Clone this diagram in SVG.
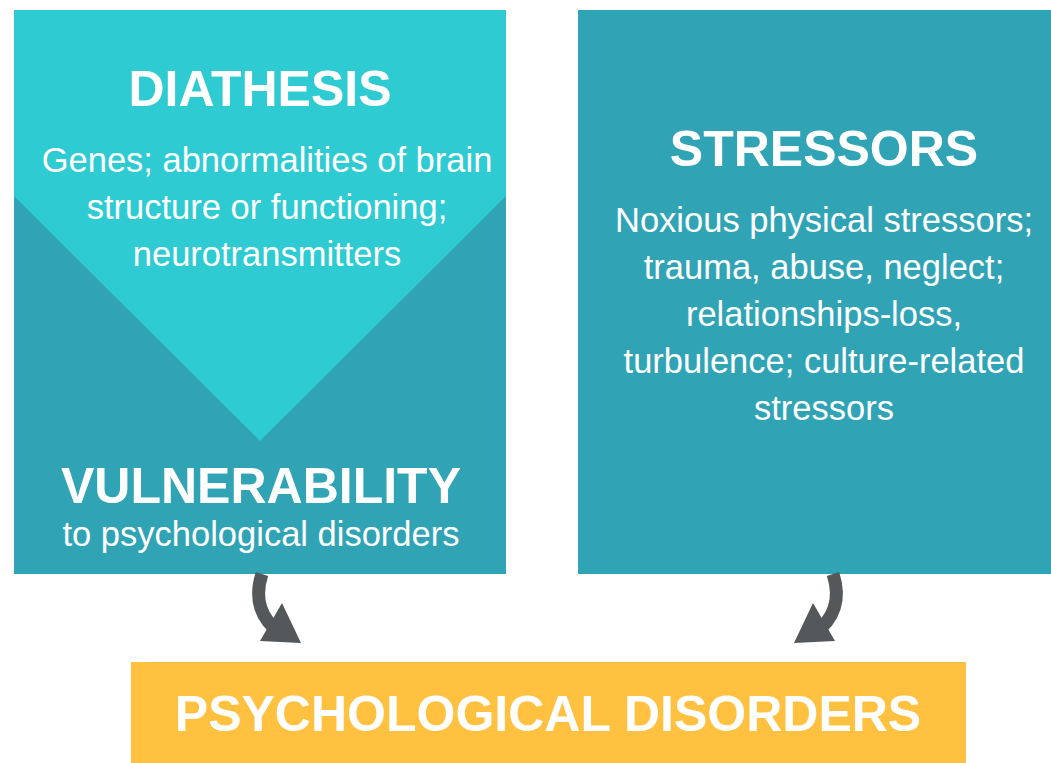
<svg xmlns="http://www.w3.org/2000/svg" width="1051" height="763" viewBox="0 0 1051 763">
<style>
.t{font-family:"Liberation Sans",Arial,sans-serif;fill:#fff;text-anchor:middle}
.h{font-weight:bold;font-size:50px}
.b{font-size:34.5px}
.arr{fill:none;stroke:#54585B;stroke-width:13}
.head{fill:#54585B}
</style>
<rect width="1051" height="763" fill="#fff"/>
<g id="diathesis">
<rect x="14" y="10" width="492" height="564" fill="#30A4B5"/>
<polygon points="14,10 506,10 506,196 260,441 14,196" fill="#2ECBD2"/>
<text class="t h" x="260" y="106">DIATHESIS</text>
<text class="t b" x="267" y="172">Genes; abnormalities of brain</text>
<text class="t b" x="267" y="219">structure or functioning;</text>
<text class="t b" x="267" y="266">neurotransmitters</text>
<text class="t h" x="261" y="503">VULNERABILITY</text>
<text class="t b" x="261" y="546">to psychological disorders</text>
</g>
<g id="stressors">
<rect x="578" y="10" width="473" height="564" fill="#30A4B5"/>
<text class="t h" x="824" y="166">STRESSORS</text>
<text class="t b" x="824" y="232">Noxious physical stressors;</text>
<text class="t b" x="824" y="279">trauma, abuse, neglect;</text>
<text class="t b" x="824" y="326">relationships-loss,</text>
<text class="t b" x="824" y="373">turbulence; culture-related</text>
<text class="t b" x="824" y="420">stressors</text>
</g>
<g id="disorders">
<rect x="131" y="662" width="835" height="101" fill="#FFC13F"/>
<text class="t h" x="548" y="731">PSYCHOLOGICAL DISORDERS</text>
</g>
<g id="connectors">
<path class="arr" d="M262 574 C254 598 260 620 282 634"/>
<polygon class="head" points="301,643 282,603 260,641"/>
<path class="arr" d="M833 574 C841 598 835 620 813 634"/>
<polygon class="head" points="794,643 813,603 835,641"/>
</g>
</svg>
